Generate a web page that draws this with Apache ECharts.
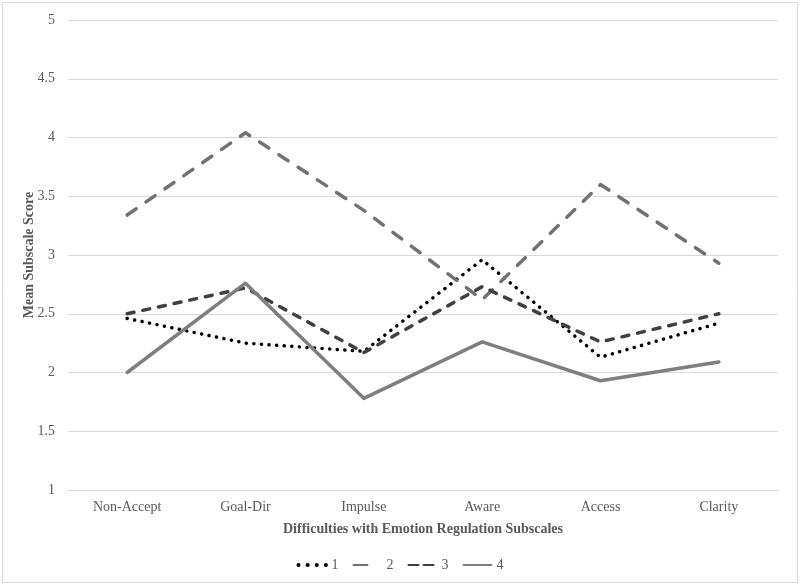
<!DOCTYPE html>
<html>
<head>
<meta charset="utf-8">
<script src="https://cdn.jsdelivr.net/npm/echarts@6/dist/echarts.min.js"></script>
<style>
    html, body { margin: 0; padding: 0; background: #fff; }
    #chart { width: 800px; height: 585px; }
</style>
</head>
<body>
<div id="chart"></div>
<script>
const subscales = ['Non-Accept', 'Goal-Dir', 'Impulse', 'Aware', 'Access', 'Clarity'];
const group1 = [2.46, 2.25, 2.18, 2.96, 2.13, 2.42];
const group2 = [3.34, 4.04, 3.38, 2.62, 3.60, 2.93];
const group3 = [2.50, 2.72, 2.17, 2.73, 2.26, 2.50];
const group4 = [2.00, 2.76, 1.78, 2.26, 1.93, 2.09];
const yTicks = [1, 1.5, 2, 2.5, 3, 3.5, 4, 4.5, 5];

const serif = '"Liberation Serif", "DejaVu Serif", serif';

function lineSeries(name, data, color, width, dash) {
    return {
        name: name,
        type: 'line',
        data: data,
        symbol: 'none',
        showSymbol: false,
        lineStyle: {
            color: color,
            width: width,
            type: dash,
            cap: 'round',
            join: 'round'
        },
        itemStyle: { color: color }
    };
}

var chart = echarts.init(document.getElementById('chart'));
chart.setOption({
    animation: false,
    backgroundColor: '#fff',
    graphic: [{
        type: 'rect',
        shape: { x: 2.5, y: 2.5, width: 795, height: 580 },
        style: { fill: 'none', stroke: '#d9d9d9', lineWidth: 1 },
        silent: true
    }],
    grid: {
        left: 68,
        right: 22,
        top: 20,
        bottom: 95
    },
    xAxis: {
        type: 'category',
        data: subscales,
        boundaryGap: true,
        axisLine: { lineStyle: { color: '#d9d9d9', width: 1 } },
        axisTick: { show: false },
        axisLabel: {
            color: '#595959',
            fontFamily: serif,
            fontSize: 14,
            margin: 10
        },
        name: 'Difficulties with Emotion Regulation Subscales',
        nameLocation: 'middle',
        nameGap: 32,
        nameTextStyle: {
            color: '#595959',
            fontFamily: serif,
            fontSize: 14,
            fontWeight: 'bold'
        }
    },
    yAxis: {
        type: 'value',
        min: yTicks[0],
        max: yTicks[yTicks.length - 1],
        interval: 0.5,
        axisLine: { show: false },
        axisTick: { show: false },
        splitLine: { lineStyle: { color: '#d9d9d9', width: 1 } },
        axisLabel: {
            color: '#595959',
            fontFamily: serif,
            fontSize: 14,
            margin: 13
        },
        name: 'Mean Subscale Score',
        nameLocation: 'middle',
        nameGap: 32,
        nameMoveOverlap: false,
        nameTextStyle: {
            color: '#595959',
            fontFamily: serif,
            fontSize: 14,
            fontWeight: 'bold'
        }
    },
    legend: {
        bottom: 8,
        left: 'center',
        itemWidth: 28,
        itemHeight: 10,
        itemGap: 14,
        itemStyle: { opacity: 0 },
        textStyle: {
            color: '#595959',
            fontFamily: serif,
            fontSize: 14
        },
        data: [
            { name: '1', lineStyle: { type: [0.1, 9], width: 4 } },
            { name: '2', lineStyle: { type: [14, 30] } },
            { name: '3', lineStyle: { type: [10, 5] } },
            { name: '4' }
        ]
    },
    series: [
        lineSeries('1', group1, '#000000', 3.5, [0.1, 7.5]),
        lineSeries('2', group2, '#767171', 3.5, [11, 12]),
        lineSeries('3', group3, '#404040', 3.5, [7, 9]),
        lineSeries('4', group4, '#7f7f7f', 3.5, 'solid')
    ]
});
</script>
</body>
</html>
